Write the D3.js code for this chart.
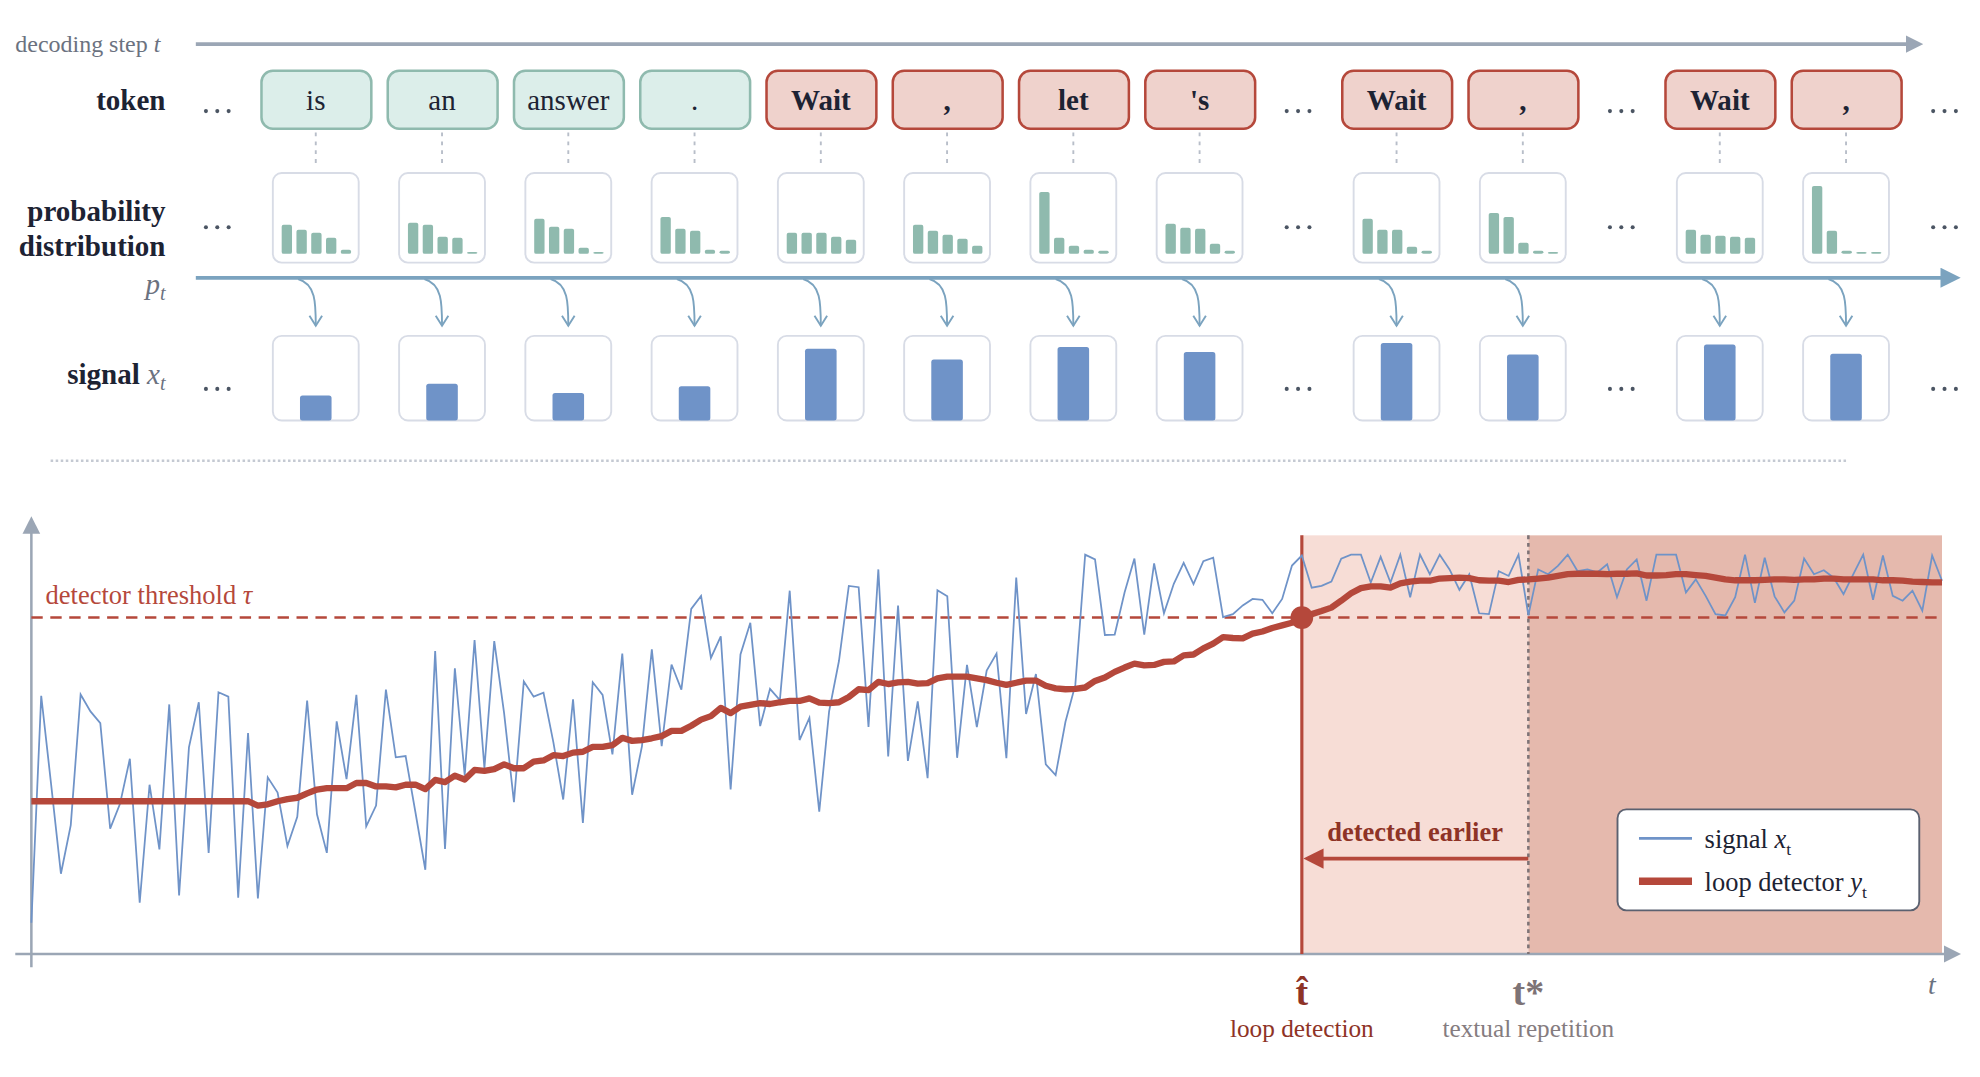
<!DOCTYPE html>
<html>
<head>
<meta charset="utf-8">
<script src="https://cdn.jsdelivr.net/npm/d3@7"></script>
<style>
  html, body { margin: 0; padding: 0; background: #fff; }
  svg { display: block; font-family: "Liberation Serif", "DejaVu Serif", serif; }
</style>
</head>
<body>
<div id="chart"></div>
<script>
// ---- data ----
var tokens = ["is", "an", "answer", ".", "Wait", ",", "let", "'s", "Wait", ",", "Wait", ","];
var tokenLoop = [false, false, false, false, true, true, true, true, true, true, true, true];
var tokenCenters = [250, 350, 450, 550, 650, 750, 850, 950, 1106, 1206, 1362, 1462];
var gapDots = [172, 1028, 1284, 1540];

var probs = [
  [0.29, 0.24, 0.21, 0.16, 0.04],
  [0.31, 0.29, 0.17, 0.16, 0.01],
  [0.35, 0.27, 0.25, 0.06, 0.00],
  [0.37, 0.25, 0.23, 0.04, 0.03],
  [0.21, 0.21, 0.21, 0.17, 0.14],
  [0.29, 0.23, 0.19, 0.15, 0.08],
  [0.62, 0.16, 0.08, 0.04, 0.03],
  [0.30, 0.26, 0.25, 0.10, 0.03],
  [0.35, 0.24, 0.24, 0.07, 0.03],
  [0.41, 0.37, 0.11, 0.03, 0.01],
  [0.24, 0.19, 0.18, 0.17, 0.16],
  [0.68, 0.23, 0.03, 0.01, 0.00]
];
var tokenSignal = [0.30, 0.44, 0.33, 0.41, 0.86, 0.73, 0.88, 0.82, 0.93, 0.79, 0.91, 0.80];

var signalX = [
  0.072,0.595,0.392,0.185,0.297,0.598,0.559,0.532,0.289,0.346,
  0.450,0.118,0.390,0.241,0.575,0.135,0.476,0.580,0.233,0.603,
  0.593,0.130,0.509,0.128,0.407,0.372,0.249,0.316,0.584,0.322,
  0.233,0.536,0.403,0.597,0.294,0.342,0.609,0.453,0.456,0.326,
  0.194,0.698,0.242,0.658,0.412,0.723,0.428,0.721,0.555,0.350,
  0.628,0.593,0.602,0.488,0.356,0.587,0.302,0.626,0.597,0.460,
  0.692,0.367,0.479,0.702,0.479,0.667,0.609,0.795,0.825,
  0.682,0.732,0.379,0.690,0.763,0.525,0.611,0.585,0.837,0.493,
  0.544,0.328,0.559,0.675,0.848,0.845,0.523,0.886,0.455,0.803,
  0.445,0.582,0.405,0.838,0.824,0.452,0.666,0.523,0.653,0.692,
  0.451,0.867,0.553,0.645,0.437,0.412,0.535,0.620,0.920,0.909,
  0.735,0.736,0.833,0.911,0.736,0.900,0.785,0.853,0.901,0.852,
  0.905,0.913,0.776,0.783,0.803,0.818,0.816,0.785,0.818,0.895,
  0.918,0.844,0.848,0.858,0.911,0.920,0.920,0.856,0.915,
  0.856,0.920,0.822,0.920,0.875,0.920,0.886,0.839,0.875,0.785,
  0.783,0.882,0.871,0.920,0.780,0.886,0.875,0.894,0.920,0.882,
  0.886,0.879,0.898,0.822,0.886,0.909,0.814,0.920,0.920,0.920,
  0.833,0.863,0.825,0.783,0.780,0.822,0.920,0.809,0.913,0.824,
  0.787,0.814,0.911,0.875,0.884,0.867,0.829,0.875,0.920,0.816,
  0.918,0.825,0.814,0.837,0.791,0.918,0.860
];

var detectorY = [
  0.352,0.352,0.352,0.352,0.352,0.352,0.352,0.352,0.352,0.352,
  0.352,0.352,0.352,0.352,0.352,0.352,0.352,0.352,0.352,0.352,
  0.352,0.352,0.352,
  0.342,0.345,0.352,0.357,0.360,0.370,0.379,0.382,0.382,0.382,
  0.394,0.394,0.386,0.386,0.384,0.390,0.390,0.380,0.401,0.396,
  0.411,0.402,0.424,0.422,0.426,0.437,0.428,0.428,0.443,0.446,
  0.458,0.456,0.464,0.466,0.477,0.477,0.481,0.498,0.491,0.493,
  0.497,0.502,0.514,0.514,0.526,0.540,
  0.548,0.567,0.555,0.570,0.574,0.578,0.576,0.580,0.583,0.583,
  0.589,0.579,0.578,0.580,0.592,0.610,0.608,0.627,0.622,0.626,
  0.627,0.623,0.624,0.635,0.639,0.639,0.639,0.635,0.631,0.625,
  0.620,0.625,0.630,0.630,0.618,0.612,0.610,0.611,0.614,0.629,
  0.637,0.650,0.660,0.669,0.665,0.666,0.673,0.674,0.688,0.690,
  0.704,0.715,0.730,0.728,0.727,0.738,0.743,0.751,0.757,0.763,
  0.776,0.783,0.790,0.798,0.814,0.831,0.843,0.847,0.847,
  0.844,0.854,0.858,0.860,0.860,0.865,0.866,0.867,0.866,0.861,
  0.860,0.860,0.857,0.862,0.863,0.865,0.867,0.871,0.875,0.876,
  0.876,0.876,0.875,0.876,0.876,0.877,0.872,0.872,0.873,0.875,
  0.875,0.873,0.871,0.867,0.863,0.861,0.861,0.861,0.862,0.863,
  0.863,0.862,0.863,0.863,0.865,0.865,0.863,0.863,0.863,0.863,
  0.861,0.861,0.860,0.858,0.857,0.856,0.856
];

var threshold = 0.775;
var tHat = 129;
var tStar = 152;

// ---- colors ----
var green = "#8fbaae", greenFill = "#dceeea";
var red = "#b5483b", redFill = "#efd2cc", darkRed = "#8e3326";
var blue = "#6f93c8", axisGray = "#9ba6b5", boxGray = "#d8dce6";

var svg = d3.select("#chart").append("svg")
  .attr("width", 1980).attr("height", 1077)
  .attr("viewBox", "0 0 1568 853");

var defs = svg.append("defs");
function marker(id, color, w, h) {
  defs.append("marker").attr("id", id)
    .attr("viewBox", "0 0 10 10").attr("refX", 2).attr("refY", 5)
    .attr("markerWidth", w).attr("markerHeight", h).attr("orient", "auto")
    .attr("markerUnits", "userSpaceOnUse")
    .append("path").attr("d", "M0,0L10,5L0,10Z").attr("fill", color);
}
marker("arGray", axisGray, 14, 16);
marker("arBlue", "#7ba3bf", 16, 16);
marker("arRed", red, 16, 16);

// ---- top panel ----
svg.append("text").attr("x", 12).attr("y", 41).attr("font-size", 19).attr("fill", "#6b7280")
  .html('decoding step <tspan font-style="italic">t</tspan>');
svg.append("line").attr("x1", 155).attr("x2", 1512).attr("y1", 35).attr("y2", 35)
  .attr("stroke", axisGray).attr("stroke-width", 3).attr("marker-end", "url(#arGray)");

var labelStyle = function(sel) { return sel.attr("text-anchor", "end").attr("font-weight", "bold").attr("font-size", 23).attr("fill", "#1d2333"); };
labelStyle(svg.append("text").attr("x", 131).attr("y", 87)).text("token");
labelStyle(svg.append("text").attr("x", 131).attr("y", 175)).text("probability");
labelStyle(svg.append("text").attr("x", 131).attr("y", 203)).text("distribution");
svg.append("text").attr("x", 131).attr("y", 233).attr("text-anchor", "end").attr("font-size", 23)
  .attr("fill", "#6b7280").attr("font-style", "italic").html('p<tspan font-size="16" dy="5">t</tspan>');
labelStyle(svg.append("text").attr("x", 131).attr("y", 304))
  .html('signal <tspan font-weight="normal" font-style="italic" fill="#6b7280">x</tspan><tspan font-weight="normal" font-style="italic" fill="#6b7280" font-size="16" dy="5">t</tspan>');

// ellipses
[88, 180, 308].forEach(function(y) {
  gapDots.forEach(function(x) {
    [-9, 0, 9].forEach(function(dx) {
      svg.append("circle").attr("cx", x + dx).attr("cy", y).attr("r", 1.6).attr("fill", "#4b5563");
    });
  });
});

var cols = svg.append("g").selectAll("g").data(tokens).join("g")
  .attr("transform", function(d, i) { return "translate(" + tokenCenters[i] + ",0)"; });

cols.append("rect").attr("x", -43).attr("y", 56).attr("width", 87).attr("height", 46).attr("rx", 9)
  .attr("fill", function(d, i) { return tokenLoop[i] ? redFill : greenFill; })
  .attr("stroke", function(d, i) { return tokenLoop[i] ? red : green; }).attr("stroke-width", 2);
cols.append("text").attr("y", 87).attr("text-anchor", "middle").attr("font-size", 23)
  .attr("fill", "#1d2333").attr("font-weight", function(d, i) { return tokenLoop[i] ? "bold" : "normal"; })
  .text(function(d) { return d; });
cols.append("line").attr("y1", 105).attr("y2", 133).attr("stroke", "#b8bec9")
  .attr("stroke-width", 1.5).attr("stroke-dasharray", "3,4");

cols.append("rect").attr("x", -34).attr("y", 137).attr("width", 68).attr("height", 71).attr("rx", 7)
  .attr("fill", "#fff").attr("stroke", boxGray).attr("stroke-width", 1.5);

var pScale = d3.scaleLinear().domain([0, 1]).range([0, 79]);
var bx = d3.scaleBand().domain(d3.range(5)).range([-27, 28]).paddingInner(0.3);
cols.each(function(d, i) {
  d3.select(this).selectAll("rect.p").data(probs[i]).join("rect").attr("class", "p")
    .attr("x", function(v, j) { return bx(j); }).attr("width", bx.bandwidth())
    .attr("y", function(v) { return 201 - Math.max(pScale(v), 1.5); })
    .attr("height", function(v) { return Math.max(pScale(v), 1.5); })
    .attr("rx", 1.5).attr("fill", green);
});

svg.append("line").attr("x1", 155).attr("x2", 1540).attr("y1", 220).attr("y2", 220)
  .attr("stroke", "#7ba3bf").attr("stroke-width", 3).attr("marker-end", "url(#arBlue)");

cols.append("path").attr("d", "M-14,221 C0,225 0,240 0,258").attr("fill", "none")
  .attr("stroke", "#7ba3bf").attr("stroke-width", 1.5);
cols.append("path").attr("d", "M-5,250 L0,258 L5,250").attr("fill", "none")
  .attr("stroke", "#7ba3bf").attr("stroke-width", 1.5);

cols.append("rect").attr("x", -34).attr("y", 266).attr("width", 68).attr("height", 67).attr("rx", 7)
  .attr("fill", "#fff").attr("stroke", boxGray).attr("stroke-width", 1.5);
var sScale = d3.scaleLinear().domain([0, 1]).range([0, 66]);
cols.append("rect").attr("x", -12.5).attr("width", 25).attr("rx", 2)
  .attr("y", function(d, i) { return 333 - sScale(tokenSignal[i]); })
  .attr("height", function(d, i) { return sScale(tokenSignal[i]); })
  .attr("fill", blue);

svg.append("line").attr("x1", 40).attr("x2", 1462).attr("y1", 365).attr("y2", 365)
  .attr("stroke", "#c4c9d2").attr("stroke-width", 2).attr("stroke-dasharray", "2,2");

// ---- bottom chart ----
var x = d3.scaleLinear().domain([0, signalX.length - 1]).range([24.75, 1538]);
var y = d3.scaleLinear().domain([0, 1]).range([755.6, 411.8]);
var xEnd = x(signalX.length - 1);

svg.append("rect").attr("x", x(tHat)).attr("y", 424).attr("width", x(tStar) - x(tHat)).attr("height", 755.6 - 424)
  .attr("fill", "#f7ddd6");
svg.append("rect").attr("x", x(tStar)).attr("y", 424).attr("width", xEnd - x(tStar)).attr("height", 755.6 - 424)
  .attr("fill", "#e5b9ad");

svg.append("line").attr("x1", 12).attr("x2", 1542).attr("y1", 755.6).attr("y2", 755.6)
  .attr("stroke", axisGray).attr("stroke-width", 2).attr("marker-end", "url(#arGray)");
svg.append("line").attr("x1", 24.75).attr("x2", 24.75).attr("y1", 766).attr("y2", 420)
  .attr("stroke", axisGray).attr("stroke-width", 2).attr("marker-end", "url(#arGray)");

svg.append("line").attr("x1", 24.75).attr("x2", xEnd).attr("y1", y(threshold)).attr("y2", y(threshold))
  .attr("stroke", red).attr("stroke-width", 2).attr("stroke-dasharray", "9,6");
svg.append("text").attr("x", 36).attr("y", 478).attr("font-size", 21).attr("fill", red)
  .html('detector threshold <tspan font-style="italic">τ</tspan>');

svg.append("line").attr("x1", x(tHat)).attr("x2", x(tHat)).attr("y1", 424).attr("y2", 755.6)
  .attr("stroke", red).attr("stroke-width", 2.5);
svg.append("line").attr("x1", x(tStar)).attr("x2", x(tStar)).attr("y1", 424).attr("y2", 755.6)
  .attr("stroke", "#7d7376").attr("stroke-width", 2).attr("stroke-dasharray", "3,3");

svg.append("path").datum(signalX)
  .attr("d", d3.line().x(function(d, i) { return x(i); }).y(function(d) { return y(d); }))
  .attr("fill", "none").attr("stroke", blue).attr("stroke-width", 1.4);
svg.append("path").datum(detectorY)
  .attr("d", d3.line().x(function(d, i) { return x(i); }).y(function(d) { return y(d); }))
  .attr("fill", "none").attr("stroke", red).attr("stroke-width", 5).attr("stroke-linejoin", "round");

svg.append("circle").attr("cx", x(tHat)).attr("cy", y(threshold)).attr("r", 9).attr("fill", red);

svg.append("text").attr("x", (x(tHat) + x(tStar)) / 2).attr("y", 666).attr("text-anchor", "middle")
  .attr("font-size", 21).attr("font-weight", "bold").attr("fill", darkRed).text("detected earlier");
svg.append("line").attr("x1", x(tStar)).attr("x2", x(tHat) + 14).attr("y1", 680).attr("y2", 680)
  .attr("stroke", red).attr("stroke-width", 3).attr("marker-end", "url(#arRed)");

// legend
var lg = svg.append("g").attr("transform", "translate(1281,641)");
lg.append("rect").attr("width", 239).attr("height", 80).attr("rx", 7)
  .attr("fill", "#fff").attr("stroke", "#5b6170").attr("stroke-width", 1.5);
lg.append("line").attr("x1", 17).attr("x2", 59).attr("y1", 23).attr("y2", 23).attr("stroke", blue).attr("stroke-width", 2);
lg.append("line").attr("x1", 17).attr("x2", 59).attr("y1", 57).attr("y2", 57).attr("stroke", red).attr("stroke-width", 6);
lg.append("text").attr("x", 69).attr("y", 31).attr("font-size", 21).attr("fill", "#1d2333")
  .html('signal <tspan font-style="italic">x</tspan><tspan font-size="14" dy="5">t</tspan>');
lg.append("text").attr("x", 69).attr("y", 65).attr("font-size", 21).attr("fill", "#1d2333")
  .html('loop detector <tspan font-style="italic">y</tspan><tspan font-size="14" dy="5">t</tspan>');

// time markers
svg.append("text").attr("x", x(tHat)).attr("y", 796).attr("text-anchor", "middle").attr("font-size", 30)
  .attr("font-weight", "bold").attr("fill", darkRed).text("t̂");
svg.append("text").attr("x", x(tHat)).attr("y", 821).attr("text-anchor", "middle").attr("font-size", 20)
  .attr("fill", darkRed).text("loop detection");
svg.append("text").attr("x", x(tStar)).attr("y", 796).attr("text-anchor", "middle").attr("font-size", 30)
  .attr("font-weight", "bold").attr("fill", "#7d7376").text("t*");
svg.append("text").attr("x", x(tStar)).attr("y", 821).attr("text-anchor", "middle").attr("font-size", 20)
  .attr("fill", "#857c80").text("textual repetition");
svg.append("text").attr("x", 1530).attr("y", 787).attr("text-anchor", "middle").attr("font-size", 22)
  .attr("font-style", "italic").attr("fill", "#6b7280").text("t");
</script>
</body>
</html>
